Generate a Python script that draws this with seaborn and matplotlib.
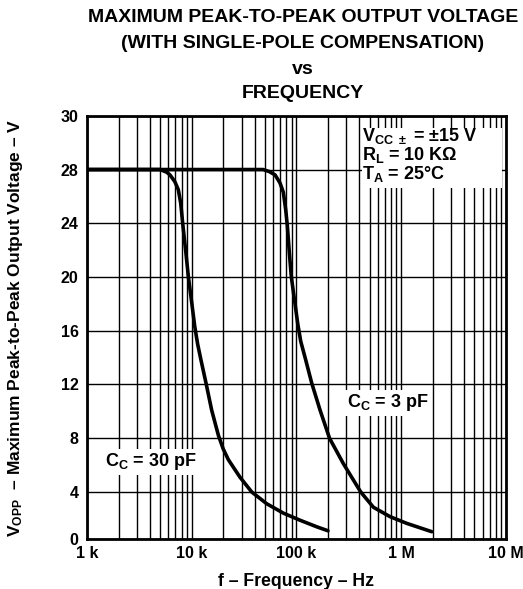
import numpy as np
import pandas as pd
import seaborn as sns
from matplotlib import pyplot as plt
from matplotlib.patches import Rectangle
from matplotlib.ticker import FixedLocator, LogLocator, NullFormatter

# curves: frequency (Hz) vs VOPP (V)
freq_30pf = [1e3, 4e3, 5.0e3, 5.77e3, 6.2e3, 6.9e3, 7.45e3, 7.85e3, 8.2e3, 8.8e3,
             9.3e3, 10.0e3, 10.7e3, 11.4e3, 12.2e3, 13.7e3, 15.5e3, 18.0e3, 20.0e3,
             22.4e3, 28.9e3, 37.4e3, 52e3, 75e3, 108e3, 156e3, 200e3]
vopp_30pf = [28, 28, 28, 27.8, 27.6, 27.1, 26.5, 25.5, 24, 21.8,
             20.0, 18.1, 16.3, 15.0, 13.9, 12.1, 10.1, 8.2, 7.2,
             6.4, 5.1, 4.0, 3.0, 2.2, 1.6, 1.04, 0.7]

freq_3pf = [1e3, 48e3, 55e3, 62.5e3, 69.7e3, 75e3, 79e3, 81.9e3, 85.6e3, 89.4e3,
            97e3, 103e3, 110e3, 121e3, 140e3, 168e3, 207e3, 281e3, 411e3, 543e3,
            783e3, 1.13e6, 1.96e6]
vopp_3pf = [28, 28, 27.85, 27.6, 27.0, 26.3, 25.0, 23.8, 21.8, 20.0,
            18.0, 16.5, 15.2, 14.0, 12.1, 10.1, 8.0, 6.1, 4.0, 2.7,
            1.9, 1.33, 0.62]

x_ticks = [1e3, 1e4, 1e5, 1e6, 1e7]
x_labels = ["1 k", "10 k", "100 k", "1 M", "10 M"]
y_ticks = [0, 4, 8, 12, 16, 20, 24, 28, 30]

title_lines = ["MAXIMUM PEAK-TO-PEAK OUTPUT VOLTAGE",
               "(WITH SINGLE-POLE COMPENSATION)",
               "vs",
               "FREQUENCY"]

# the printed grid is not evenly spaced: bottom cell shorter, top cell taller
real_pts = [0, 4, 28, 30]
draw_pts = [0, 3.5, 27.5, 31.5]


def fwd(y):
    return np.interp(y, real_pts, draw_pts)


def inv(z):
    return np.interp(z, draw_pts, real_pts)


df = pd.concat([
    pd.DataFrame({"f": freq_30pf, "v": vopp_30pf, "cc": "30 pF"}),
    pd.DataFrame({"f": freq_3pf, "v": vopp_3pf, "cc": "3 pF"}),
])

sns.set_style("white")
plt.rcParams['font.family'] = ['Liberation Sans', 'DejaVu Sans']
plt.rcParams['font.weight'] = 'bold'
plt.rcParams['text.color'] = 'black'
plt.rcParams['axes.labelcolor'] = 'black'
plt.rcParams['xtick.color'] = 'black'
plt.rcParams['ytick.color'] = 'black'
plt.rcParams['mathtext.fontset'] = 'custom'
plt.rcParams['mathtext.rm'] = 'Liberation Sans:bold'
plt.rcParams['mathtext.it'] = 'Liberation Sans:bold'
plt.rcParams['mathtext.bf'] = 'Liberation Sans:bold'

fig = plt.figure(figsize=(5.23, 5.89), dpi=100)
ax = fig.add_axes([0.1663, 0.0849, 0.801, 0.7185])

sns.lineplot(data=df, x="f", y="v", units="cc", estimator=None, color="black",
             lw=2.6, ax=ax, zorder=3, sort=False)

ax.set_xscale("log")
ax.set_yscale("function", functions=(fwd, inv))
ax.set_xlim(1e3, 1e7)
ax.set_ylim(0, 30)

ax.xaxis.set_major_locator(FixedLocator(x_ticks))
ax.set_xticklabels(x_labels)
ax.xaxis.set_minor_locator(LogLocator(base=10, subs=np.arange(2, 10)))
ax.xaxis.set_minor_formatter(NullFormatter())
ax.yaxis.set_major_locator(FixedLocator(y_ticks))
ax.set_yticklabels([str(t) for t in y_ticks])
ax.yaxis.set_minor_locator(FixedLocator([]))

ax.grid(which="both", axis="x", color="black", lw=1.0)
ax.grid(which="major", axis="y", color="black", lw=1.0)
ax.tick_params(which="both", length=0, labelsize=11.5, colors="black")
ax.tick_params(axis="x", pad=5)
ax.tick_params(axis="y", pad=6)
for s in ax.spines.values():
    s.set_linewidth(2.0)
    s.set_color("black")

ax.set_xlabel("f – Frequency – Hz", fontsize=12.7, fontweight="bold", va="top")
ax.xaxis.set_label_coords(0.5, -0.080)
ax.set_ylabel(r"V$_{\rm OPP}$  – Maximum Peak-to-Peak Output Voltage – V",
              fontsize=12.5, fontweight="bold")
ax.yaxis.set_label_coords(-0.148, 0.5)

box = dict(facecolor="white", edgecolor="none", pad=2)
ax.text(0.043, 0.182, r"C$_{\rm C}$ = 30 pF", fontsize=13, fontweight="bold",
        va="center", ha="left", bbox=box, zorder=4, transform=ax.transAxes)
ax.text(0.621, 0.3215, r"C$_{\rm C}$ = 3 pF", fontsize=13, fontweight="bold",
        va="center", ha="left", bbox=box, zorder=4, transform=ax.transAxes)

ax.add_patch(Rectangle((0.656, 0.830), 0.334, 0.142, transform=ax.transAxes,
                       facecolor="white", edgecolor="none", zorder=3.5))
param_lines = ["V$_{\\rm CC\\ \\pm}$ = ±15 V", "R$_{\\rm L}$ = 10 KΩ", "T$_{\\rm A}$ = 25°C"]
for txt, yy in zip(param_lines, [0.952, 0.907, 0.862]):
    ax.text(0.656, yy, txt, fontsize=13, fontweight="bold", va="center",
            ha="left", zorder=4, transform=ax.transAxes)

for txt, yy in zip(title_lines, [17, 44, 70, 94]):
    fig.text(303 / 523, 1 - yy / 589, txt, ha="center", va="center",
             fontsize=14, fontweight="bold")

plt.savefig("out.png", dpi=100)
